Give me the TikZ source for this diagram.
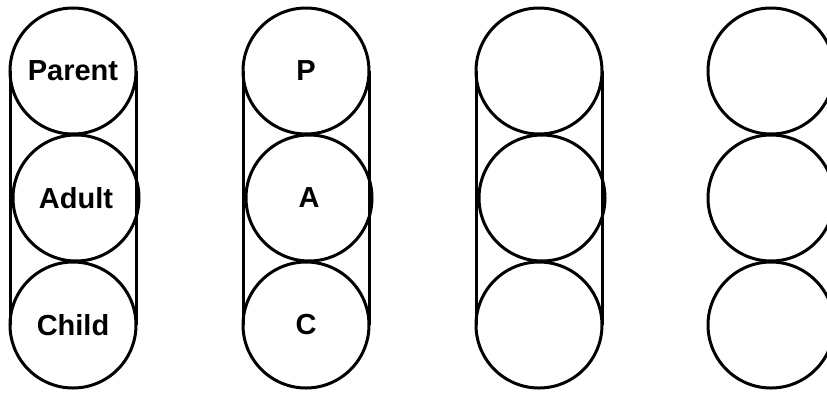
\documentclass[tikz,border=0pt]{standalone}
\usepackage{fontspec}
\setmainfont{Liberation Sans}
\begin{document}
\begin{tikzpicture}[
  x=1pt, y=-1pt,
  every node/.style={circle, draw, line width=3pt, minimum size=126pt,
    inner sep=0pt, outer sep=0pt, font=\bfseries\fontsize{29}{31}\selectfont},
  side/.style={line width=3pt}
]
  \useasboundingbox (0,0) rectangle (827,394);

  \node (p1) at (73, 71)    {Parent};
  \node (a1) at (76, 198)   {Adult};
  \node (c1) at (73, 325)   {Child};

  \node (p2) at (306, 71)   {P};
  \node (a2) at (309, 198)  {A};
  \node (c2) at (306, 325)  {C};

  \node (p3) at (539, 71)   {};
  \node (a3) at (542, 198)  {};
  \node (c3) at (539, 325)  {};

  \node (p4) at (771, 71)   {};
  \node (a4) at (771, 198)  {};
  \node (c4) at (771, 325)  {};

  \draw[side] (p1.west)--(c1.west) (p1.east)--(c1.east);
  \draw[side] (p2.west)--(c2.west) (p2.east)--(c2.east);
  \draw[side] (p3.west)--(c3.west) (p3.east)--(c3.east);
\end{tikzpicture}
\end{document}
